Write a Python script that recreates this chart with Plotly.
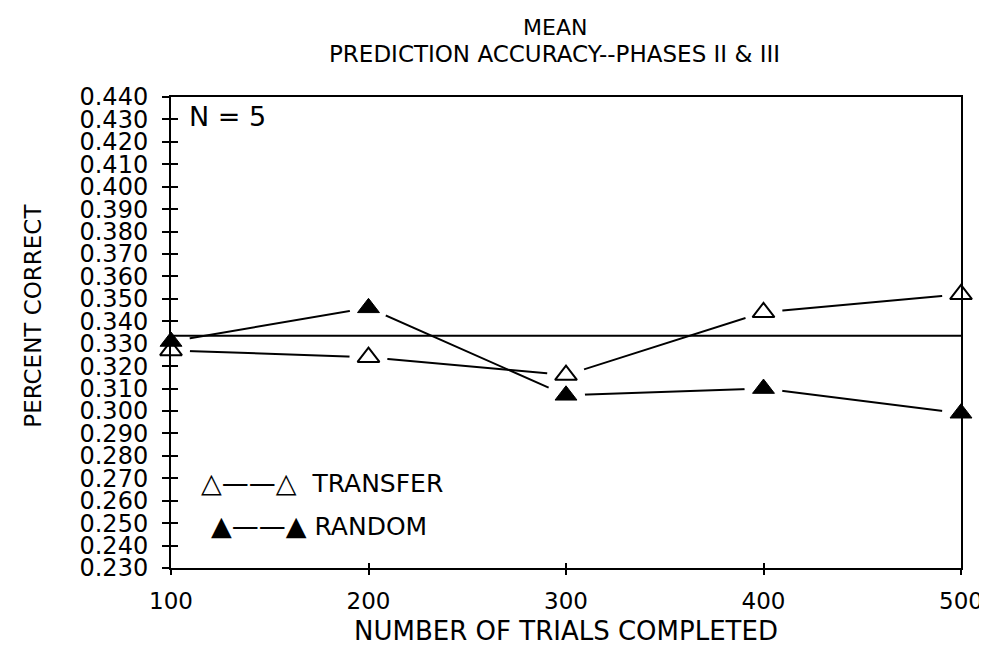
import plotly.graph_objects as go

# ---- data ----
trials = [100, 200, 300, 400, 500]
transfer = [0.327, 0.324, 0.316, 0.344, 0.352]
random_ = [0.331, 0.346, 0.307, 0.310, 0.299]
chance = 0.3335

y_tick_vals = [0.23, 0.24, 0.25, 0.26, 0.27, 0.28, 0.29, 0.30, 0.31, 0.32, 0.33,
               0.34, 0.35, 0.36, 0.37, 0.38, 0.39, 0.40, 0.41, 0.42, 0.43, 0.44]
y_tick_text = ["0.230", "0.240", "0.250", "0.260", "0.270", "0.280", "0.290", "0.300",
               "0.310", "0.320", "0.330", "0.340", "0.350", "0.360", "0.370", "0.380",
               "0.390", "0.400", "0.410", "0.420", "0.430", "0.440"]
x_tick_vals = [100, 200, 300, 400, 500]
x_range = [100, 500]
y_range = [0.23, 0.44]

title_lines = ["MEAN", "PREDICTION ACCURACY--PHASES II &amp; III"]
x_title = "NUMBER OF TRIALS COMPLETED"
y_title = "PERCENT CORRECT"

FONT = "DejaVu Sans, Liberation Sans, sans-serif"
INK = "black"

fig = go.Figure()

# connecting lines
for ys in (transfer, random_):
    fig.add_trace(go.Scatter(x=trials, y=ys, mode="lines",
                             line=dict(color=INK, width=2),
                             hoverinfo="skip", showlegend=False))
# white halos to create the gaps around the symbols
for ys in (transfer, random_):
    fig.add_trace(go.Scatter(x=trials, y=ys, mode="markers",
                             marker=dict(symbol="circle", size=38, color="white",
                                         opacity=1, line=dict(width=0)),
                             hoverinfo="skip", showlegend=False))
# symbols
fig.add_trace(go.Scatter(x=trials, y=transfer, mode="markers", name="TRANSFER",
                         marker=dict(symbol="triangle-up", size=19, color="white",
                                     line=dict(color=INK, width=2)),
                         cliponaxis=False, showlegend=False))
fig.add_trace(go.Scatter(x=trials, y=random_, mode="markers", name="RANDOM",
                         marker=dict(symbol="triangle-up", size=19, color=INK,
                                     line=dict(color=INK, width=1)),
                         cliponaxis=False, showlegend=False))
# empty trace carrying the overlay axes (inner half of the crossing ticks)
fig.add_trace(go.Scatter(x=[], y=[], xaxis="x2", yaxis="y2", showlegend=False))

# chance reference line
fig.add_shape(type="line", xref="x", yref="y", x0=x_range[0], x1=x_range[1],
              y0=chance, y1=chance, line=dict(color=INK, width=2), layer="above")

# titles (as annotations for exact placement)
fig.add_annotation(x=0.486, y=1.1482, xref="paper", yref="paper", text=title_lines[0],
                   showarrow=False, xanchor="center", yanchor="middle",
                   font=dict(size=22, color=INK, family=FONT))
fig.add_annotation(x=0.486, y=1.0919, xref="paper", yref="paper", text=title_lines[1],
                   showarrow=False, xanchor="center", yanchor="middle",
                   font=dict(size=23, color=INK, family=FONT))
fig.add_annotation(x=-0.1742, y=0.5365, xref="paper", yref="paper", text=y_title,
                   textangle=-90, showarrow=False, xanchor="center", yanchor="middle",
                   font=dict(size=23, color=INK, family=FONT))

# in-plot texts
fig.add_annotation(x=108, y=0.4315, xref="x", yref="y", text="N = 5", showarrow=False,
                   xanchor="left", yanchor="middle", font=dict(size=27, color=INK, family=FONT))
fig.add_annotation(x=114, y=0.268, xref="x", yref="y",
                   text="<span style='font-size:27px'>△——△</span>  TRANSFER",
                   showarrow=False, xanchor="left", yanchor="middle",
                   font=dict(size=25, color=INK, family=FONT))
fig.add_annotation(x=119, y=0.249, xref="x", yref="y",
                   text="<span style='font-size:27px'>▲——▲</span> RANDOM",
                   showarrow=False, xanchor="left", yanchor="middle",
                   font=dict(size=25, color=INK, family=FONT))

fig.update_layout(
    width=987, height=645,
    margin=dict(l=163, r=32, t=89, b=77),
    paper_bgcolor="white", plot_bgcolor="white",
    font=dict(family=FONT, color=INK),
    xaxis=dict(range=x_range, tickvals=x_tick_vals, ticks="outside", ticklen=5,
               tickwidth=2, tickcolor=INK, showline=True, linewidth=2, linecolor=INK,
               mirror=True, showgrid=False, zeroline=False,
               tickfont=dict(size=23, family=FONT, color=INK), ticklabelstandoff=6,
               title=dict(text=x_title, standoff=9,
                          font=dict(size=26, family=FONT, color=INK))),
    xaxis2=dict(range=x_range, tickvals=x_tick_vals, overlaying="x", anchor="y",
                side="bottom", ticks="inside", ticklen=5, tickwidth=2, tickcolor=INK,
                showticklabels=False, showline=False, showgrid=False, zeroline=False),
    yaxis=dict(range=y_range, tickvals=y_tick_vals, ticktext=y_tick_text,
               ticks="outside", ticklen=7, tickwidth=2, tickcolor=INK,
               showline=True, linewidth=2, linecolor=INK, mirror=True,
               showgrid=False, zeroline=False,
               tickfont=dict(size=24, family=FONT, color=INK), ticklabelstandoff=9),
    yaxis2=dict(range=y_range, tickvals=y_tick_vals, overlaying="y", anchor="x",
                side="left", ticks="inside", ticklen=7, tickwidth=2, tickcolor=INK,
                showticklabels=False, showline=False, showgrid=False, zeroline=False),
)

fig.write_html("out.html")
